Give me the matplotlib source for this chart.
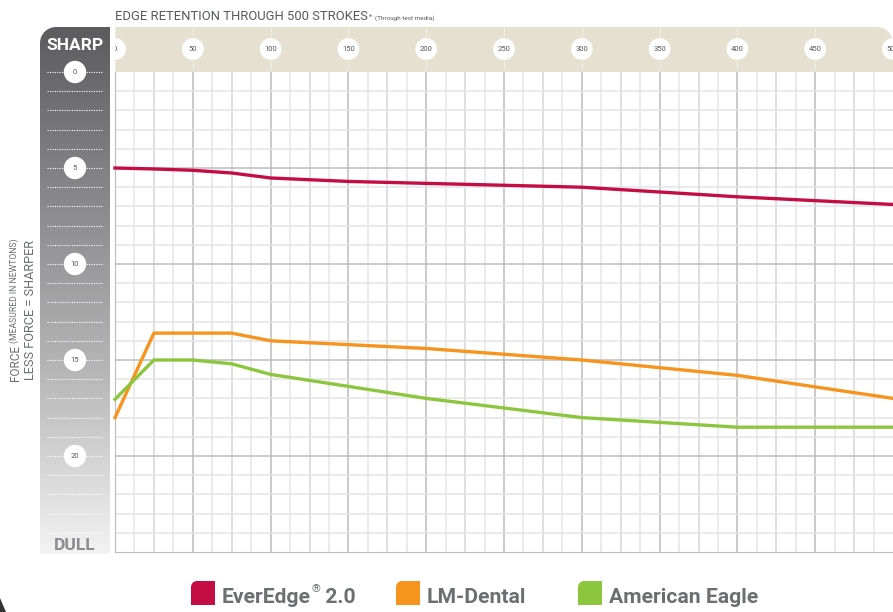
import numpy as np
import matplotlib
matplotlib.use("Agg")
import matplotlib.pyplot as plt
from matplotlib.path import Path
from matplotlib.patches import PathPatch

# data (force in newtons vs. strokes)
ever_x = [0, 25, 50, 75, 100, 150, 200, 300, 400, 500]
ever_y = [5.0, 5.05, 5.12, 5.26, 5.52, 5.7, 5.8, 6.0, 6.5, 6.9]
lm_x = [0, 25, 75, 100, 200, 300, 400, 500]
lm_y = [18.0, 13.6, 13.6, 14.0, 14.4, 15.0, 15.8, 17.0]
ae_x = [0, 25, 50, 75, 100, 200, 300, 400, 500]
ae_y = [17.05, 15.0, 15.0, 15.2, 15.75, 17.0, 18.0, 18.5, 18.5]

series_names = [("EverEdge", "\u00ae", " 2.0"), ("LM-Dental", "", ""), ("American Eagle", "", "")]
series_colors = ["#c50d45", "#f7941d", "#8cc63f"]

x_ticks = [0, 50, 100, 150, 200, 250, 300, 350, 400, 450, 500]
y_ticks = [0, 5, 10, 15, 20]

W, H = 893, 612
plt.rcParams["font.family"] = ["Roboto", "DejaVu Sans"]
grey_txt = "#6d6e71"

fig = plt.figure(figsize=(W / 100, H / 100), dpi=100)


def rect(x0, y0, x1, y1):
    # pixel box (y down) -> figure fraction [l, b, w, h]
    return [x0 / W, 1 - y1 / H, (x1 - x0) / W, (y1 - y0) / H]


def round_box(x0, y0, x1, y1, r, corner):
    # rectangle in pixel coords with one rounded top corner
    k = 0.5523 * r
    if corner == "tl":
        v = [(x0, y1), (x0, y0 + r), (x0, y0 + r - k), (x0 + r - k, y0), (x0 + r, y0),
             (x1, y0), (x1, y1), (x0, y1)]
        codes = [Path.MOVETO, Path.LINETO, Path.CURVE4, Path.CURVE4, Path.CURVE4,
                 Path.LINETO, Path.LINETO, Path.CLOSEPOLY]
    else:
        v = [(x0, y1), (x0, y0), (x1 - r, y0), (x1 - r + k, y0), (x1, y0 + r - k),
             (x1, y0 + r), (x1, y1), (x0, y1)]
        codes = [Path.MOVETO, Path.LINETO, Path.LINETO, Path.CURVE4, Path.CURVE4,
                 Path.CURVE4, Path.LINETO, Path.CLOSEPOLY]
    return Path(v, codes)


# background layer in pixel coordinates
bg = fig.add_axes([0, 0, 1, 1], zorder=0)
bg.set_xlim(0, W)
bg.set_ylim(H, 0)
bg.axis("off")

bg.add_patch(PathPatch(round_box(115, 27, 893, 72, 16, "tr"), fc="#e5e0d0", ec="none"))

bar_patch = PathPatch(round_box(40, 27, 110, 554, 16, "tl"), fc="none", ec="none")
bg.add_patch(bar_patch)
grad = np.linspace(0, 1, 256)[:, None]
cmap = matplotlib.colors.LinearSegmentedColormap.from_list(
    "g", ["#5c5c5e", "#8a8a8c", "#b8b8b9", "#f3f3f3"])
im = bg.imshow(grad, extent=(40, 110, 554, 27), cmap=cmap, aspect="auto", origin="upper")
im.set_clip_path(bar_patch)

bg.text(75, 45, "SHARP", color="white", fontsize=12.5, fontweight="bold", ha="center", va="center")
bg.text(75, 545, "DULL", color="#8c8c8e", fontsize=12.5, fontweight="bold", ha="center", va="center")

# title
t = bg.text(115, 16, "EDGE RETENTION THROUGH 500 STROKES", color="#58595b", fontsize=9.4,
            ha="left", va="center")
bg.annotate("*", xy=(1, 1), xycoords=t, xytext=(1, -3), textcoords="offset points",
            color="#58595b", fontsize=5, ha="left", va="top")
bg.annotate("(Through test media)", xy=(1, 0), xycoords=t, xytext=(5, 1), textcoords="offset points",
            color="#58595b", fontsize=4.6, ha="left", va="bottom")

# y label
bg.text(15, 381, "FORCE", rotation=90, color=grey_txt, fontsize=8.5, ha="center", va="bottom")
bg.text(14, 343, "(MEASURED IN NEWTONS)", rotation=90, color=grey_txt, fontsize=6.2,
        ha="center", va="bottom")
bg.text(31, 310, "LESS FORCE = SHARPER", rotation=90, color=grey_txt, fontsize=9.2,
        ha="center", va="center")

# legend
legend_x = [191, 396, 578]
for lx, (name, sup, tail), c in zip(legend_x, series_names, series_colors):
    bg.add_patch(PathPatch(round_box(lx, 581, lx + 24, 605, 6, "tl"), fc=c, ec="none"))
    tx = bg.text(lx + 31, 603, name, color=grey_txt, fontsize=15.2, fontweight="bold",
                 ha="left", va="baseline")
    if sup:
        s = bg.annotate(sup, xy=(1, 592), xycoords=(tx, "data"), xytext=(0.5, 0),
                        textcoords="offset points", color=grey_txt, fontsize=8,
                        ha="left", va="baseline")
        bg.annotate(tail, xy=(1, 603), xycoords=(s, "data"), xytext=(0, 0),
                    textcoords="offset points", color=grey_txt, fontsize=15.2,
                    fontweight="bold", ha="left", va="baseline")

# page corner
bg.add_patch(plt.Polygon([(0, 612), (0, 598), (6, 612)], closed=True, fc="#333333", ec="none"))

# main plot
ax = fig.add_axes(rect(115, 72, 893, 552), zorder=2)
ax.set_xlim(0, 500)
ax.set_ylim(25, 0)
for v in np.arange(12.5, 500, 12.5):
    if v % 50 == 0:
        c = "#bcbcbe"
    elif v % 25 == 0:
        c = "#d6d6d8"
    else:
        c = "#e6e6e7"
    ax.axvline(v, color=c, lw=1.1, zorder=0)
for v in range(1, 25):
    ax.axhline(v, color="#bcbcbe" if v % 5 == 0 else "#e4e4e5", lw=1.1, zorder=0)
for s in ["top", "right"]:
    ax.spines[s].set_visible(False)
for s in ["left", "bottom"]:
    ax.spines[s].set_color("#bcbcbe")
ax.set_xticks([])
ax.set_yticks([])

for xs, ys, c in zip([ever_x, lm_x, ae_x], [ever_y, lm_y, ae_y], series_colors):
    ax.plot(xs, ys, color=c, lw=2.4, solid_joinstyle="round", zorder=3, clip_on=False)

# top scale
hx = fig.add_axes(rect(115, 27, 893, 72), zorder=3)
hx.set_xlim(ax.get_xlim())
hx.set_ylim(72, 27)
hx.axis("off")
hx.vlines(x_ticks, 28, 36, colors="white", lw=0.8, linestyles=(0, (1, 1.2)))
hx.vlines(x_ticks, 61, 69, colors="white", lw=0.8, linestyles=(0, (1, 1.2)))
hx.scatter(x_ticks, [49] * len(x_ticks), s=245, c="white", edgecolors="none", zorder=3)
for v in x_ticks:
    hx.text(v, 49, str(v), fontsize=5.5, color="#58595b", ha="center", va="center",
            zorder=4, clip_on=True)

# left scale
lx_ax = fig.add_axes(rect(40, 27, 110, 554), zorder=3)
lx_ax.set_xlim(40, 110)
lx_ax.set_ylim(25 + 2 * 25 / 480, -45 * 25 / 480)
lx_ax.axis("off")
lx_ax.hlines(range(0, 25), 47, 103, colors="white", lw=0.8, linestyles=(0, (1, 1.2)))
lx_ax.scatter([75] * len(y_ticks), y_ticks, s=260, c="white", edgecolors="none", zorder=3)
for v in y_ticks:
    lx_ax.text(75, v, str(v), fontsize=5.5, color="#58595b", ha="center", va="center", zorder=4)

fig.savefig("out.png", dpi=100)
